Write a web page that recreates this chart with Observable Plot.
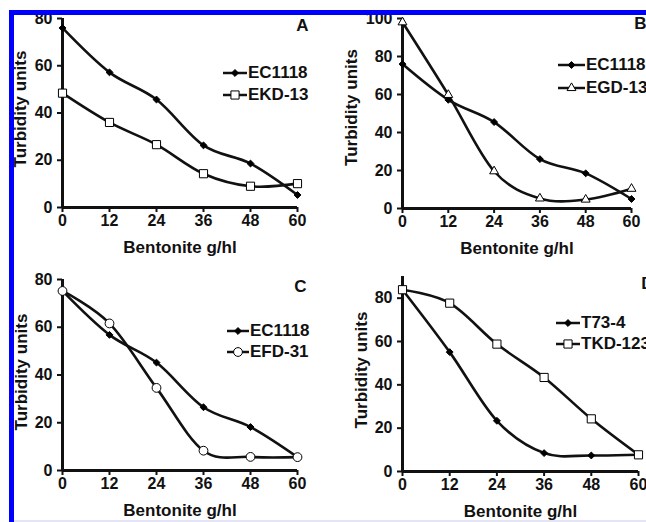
<!DOCTYPE html>
<html><head><meta charset="utf-8">
<script src="https://cdn.jsdelivr.net/npm/d3@7"></script>
<script src="https://cdn.jsdelivr.net/npm/@observablehq/plot@0.6"></script>
<style>
body{margin:0;background:#fff;}
#fig{position:relative;width:646px;height:522px;overflow:hidden;background:#fff;font-family:"Liberation Sans",Arial,sans-serif;}
.panel{position:absolute;}
.leg{position:absolute;display:flex;align-items:center;font:bold 17px "Liberation Sans",Arial,sans-serif;color:#111;white-space:nowrap;}
.leg svg{display:block;margin-right:1px;}
.bar{position:absolute;}
</style></head><body><div id="fig"></div>
<script>
// ---- data ----
const bentonite = [0, 12, 24, 36, 48, 60];
const xTicks = [0, 12, 24, 36, 48, 60];
const xTitle = "Bentonite g/hl";
const yTitle = "Turbidity units";

const ec1118A = [76, 57.2, 45.7, 26.3, 18.6, 5.3];
const ekd13   = [48.4, 36, 26.6, 14.3, 9, 10.1];

const ec1118B = [76, 57.2, 45.5, 26, 18.5, 5];
const egd13   = [98, 59.8, 19.6, 5.3, 4.7, 10.4];

const ec1118C = [75.2, 56.8, 45.2, 26.5, 18.2, 5.6];
const efd31   = [75.2, 61.6, 34.6, 8.3, 5.7, 5.6];

const t734    = [83.9, 55.1, 23.4, 8.5, 7.4, 7.7];
const tkd123  = [83.9, 77.7, 58.8, 43.4, 24.3, 7.7];

const yTicksA = [0, 20, 40, 60, 80];
const yTicksB = [0, 20, 40, 60, 80, 100];
const yTicksC = [0, 20, 40, 60, 80];
const yTicksD = [0, 20, 40, 60, 80];

// symbol styles
const styles = {
  diamond: {symbol: "diamond2", r: 3.1, fill: "black", stroke: "black", strokeWidth: 1},
  square:  {symbol: "square", r: 4.6, fill: "white", stroke: "black", strokeWidth: 1},
  triangle:{symbol: "triangle", r: 3.3, fill: "white", stroke: "black", strokeWidth: 1},
  circle:  {symbol: "circle", r: 4.4, fill: "white", stroke: "black", strokeWidth: 1}
};
const d3sym = {diamond2: d3.symbolDiamond2, square: d3.symbolSquare, triangle: d3.symbolTriangle, circle: d3.symbolCircle};

const fig = document.getElementById("fig");
const FONT = "bold 16px 'Liberation Sans', Arial, sans-serif";

function panel(cfg) {
  const marks = [
    Plot.ruleY([0], {stroke: "#111", strokeWidth: 3}),
    Plot.ruleX([0], {stroke: "#111", strokeWidth: 3}),
    Plot.axisX({ticks: xTicks, tickSize: 5, tickPadding: 2, stroke: "#111", strokeWidth: 2, fill: "#111", label: null, fontSize: 16}),
    Plot.axisY({ticks: cfg.yTicks, tickSize: 5, tickPadding: 5, stroke: "#111", strokeWidth: 2, fill: "#111", label: null, fontSize: 16})
  ];
  for (const s of cfg.series) {
    marks.push(Plot.line(s.values, {x: (d, i) => bentonite[i], y: d => d, curve: "cardinal", tension: 0, stroke: "#111", strokeWidth: 2.6}));
  }
  for (const s of cfg.series) {
    const st = styles[s.style];
    marks.push(Plot.dot(s.values, {x: (d, i) => bentonite[i], y: d => d, ...st}));
  }
  marks.push(Plot.text([xTitle], {text: d => d, frameAnchor: "bottom", dy: 40, lineAnchor: "middle", fontSize: 17, fill: "#111"}));
  marks.push(Plot.text([yTitle], {text: d => d, frameAnchor: "left", rotate: -90, dx: cfg.yTitleDx, dy: cfg.yTitleDy, textAnchor: "middle", lineAnchor: "middle", fontSize: 17, fill: "#111"}));
  marks.push(Plot.text([cfg.letter], {text: d => d, frameAnchor: "top-right", dx: cfg.letterDx, dy: cfg.letterDy, textAnchor: "middle", lineAnchor: "middle", fontSize: 17, fill: "#111"}));

  const svg = Plot.plot({
    width: cfg.w, height: cfg.h,
    marginLeft: cfg.ml, marginRight: cfg.mr, marginTop: cfg.mt, marginBottom: cfg.mb,
    x: {domain: [0, 60]},
    y: {domain: [0, cfg.yMax]},
    style: {font: FONT, background: "transparent", overflow: "visible"},
    marks
  });
  const holder = document.createElement("div");
  holder.className = "panel";
  holder.style.left = cfg.left + "px";
  holder.style.top = cfg.top + "px";
  holder.appendChild(svg);
  fig.appendChild(holder);

  // legend
  cfg.series.forEach((s, k) => {
    const st = styles[s.style];
    const div = document.createElement("div");
    div.className = "leg";
    const lw = cfg.legLineW;
    div.style.left = cfg.legX + "px";
    div.style.top = (cfg.legY[k] - 10) + "px";
    div.style.height = "20px";
    const g = d3.create("svg").attr("width", lw).attr("height", 20);
    g.append("line").attr("x1", 0).attr("x2", lw).attr("y1", 10).attr("y2", 10).attr("stroke", "#111").attr("stroke-width", 2.5);
    g.append("path").attr("transform", `translate(${lw / 2},10)`)
      .attr("d", d3.symbol(d3sym[st.symbol], Math.PI * st.r * st.r)())
      .attr("fill", st.fill).attr("stroke", st.stroke).attr("stroke-width", st.strokeWidth);
    div.appendChild(g.node());
    const span = document.createElement("span");
    span.textContent = s.name;
    div.appendChild(span);
    fig.appendChild(div);
  });
}

panel({left: 0, top: 0, w: 323, h: 261, ml: 62, mr: 26, mt: 18, mb: 54, yMax: 80, yTicks: yTicksA,
  series: [{name: "EC1118", values: ec1118A, style: "diamond"}, {name: "EKD-13", values: ekd13, style: "square"}],
  letter: "A", letterDx: 5, letterDy: 7, yTitleDx: -42, yTitleDy: -4,
  legX: 223, legY: [73, 95], legLineW: 24});

panel({left: 323, top: 0, w: 323, h: 261, ml: 79, mr: 15, mt: 18, mb: 53, yMax: 100, yTicks: yTicksB,
  series: [{name: "EC1118", values: ec1118B, style: "diamond"}, {name: "EGD-13", values: egd13, style: "triangle"}],
  letter: "B", letterDx: 9, letterDy: 5, yTitleDx: -51, yTitleDy: -6,
  legX: 558, legY: [65, 88], legLineW: 27});

panel({left: 0, top: 261, w: 323, h: 261, ml: 62, mr: 26, mt: 18, mb: 52, yMax: 80, yTicks: yTicksC,
  series: [{name: "EC1118", values: ec1118C, style: "diamond"}, {name: "EFD-31", values: efd31, style: "circle"}],
  letter: "C", letterDx: 3, letterDy: 7, yTitleDx: -41, yTitleDy: -3,
  legX: 227, legY: [331, 352], legLineW: 22});

panel({left: 323, top: 261, w: 323, h: 261, ml: 79, mr: 8, mt: 15, mb: 51, yMax: 90, yTicks: yTicksD,
  series: [{name: "T73-4", values: t734, style: "diamond"}, {name: "TKD-123", values: tkd123, style: "square"}],
  letter: "D", letterDx: 9, letterDy: 7, yTitleDx: -41, yTitleDy: -4,
  legX: 556, legY: [323, 344], legLineW: 24});

// frame decoration (blue border of the source figure)
function bar(l, t, w, h, c) {
  const b = document.createElement("div");
  b.className = "bar";
  Object.assign(b.style, {left: l + "px", top: t + "px", width: w + "px", height: h + "px", background: c});
  fig.appendChild(b);
}
bar(9, 10, 5, 512, "#0000ff");
bar(9, 10, 637, 5, "#0000ff");
bar(14, 520, 632, 2, "#e4e4f8");
</script>
</body></html>
